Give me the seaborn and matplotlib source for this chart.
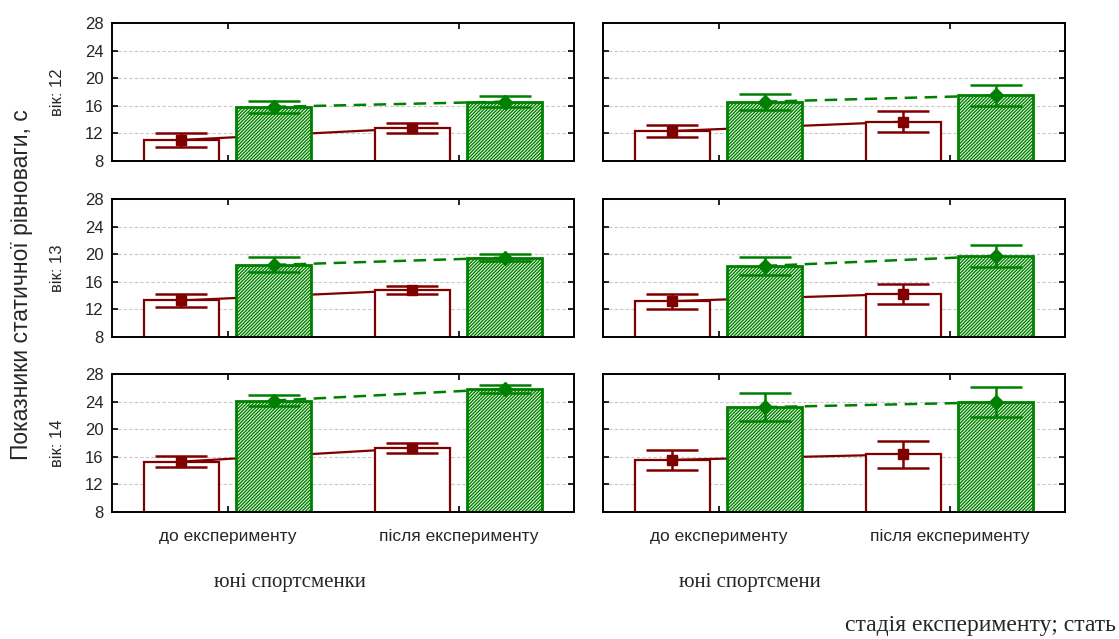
import numpy as np
import pandas as pd
import seaborn as sns
import matplotlib
matplotlib.use("Agg")
import matplotlib.pyplot as plt

# ---- data -------------------------------------------------------------
stages = ["до експерименту", "після експерименту"]
sexes = ["юні спортсменки", "юні спортсмени"]
ages = ["вік: 12", "вік: 13", "вік: 14"]
groups = ["К", "Е"]

# group means per age (12, 13, 14)
girls_ctrl_mean = [11.05, 13.3, 15.3]
girls_ctrl_mean_after = [12.75, 14.8, 17.25]
girls_exp_mean = [15.85, 18.45, 24.15]
girls_exp_mean_after = [16.6, 19.5, 25.85]
boys_ctrl_mean = [12.35, 13.2, 15.55]
boys_ctrl_mean_after = [13.7, 14.25, 16.35]
boys_exp_mean = [16.6, 18.3, 23.2]
boys_exp_mean_after = [17.5, 19.75, 23.9]

# half-widths of the error bars
girls_ctrl_err = [1.0, 0.97, 0.82]
girls_ctrl_err_after = [0.75, 0.6, 0.72]
girls_exp_err = [0.9, 1.1, 0.85]
girls_exp_err_after = [0.77, 0.55, 0.55]
boys_ctrl_err = [0.87, 1.1, 1.4]
boys_ctrl_err_after = [1.55, 1.4, 2.0]
boys_exp_err = [1.15, 1.35, 2.0]
boys_exp_err_after = [1.55, 1.6, 2.2]

y_ticks = [8, 12, 16, 20, 24, 28]

rows = []
src = {
    (0, 0): (girls_ctrl_mean, girls_ctrl_err),
    (0, 1): (girls_ctrl_mean_after, girls_ctrl_err_after),
    (1, 0): (girls_exp_mean, girls_exp_err),
    (1, 1): (girls_exp_mean_after, girls_exp_err_after),
}
src_b = {
    (0, 0): (boys_ctrl_mean, boys_ctrl_err),
    (0, 1): (boys_ctrl_mean_after, boys_ctrl_err_after),
    (1, 0): (boys_exp_mean, boys_exp_err),
    (1, 1): (boys_exp_mean_after, boys_exp_err_after),
}
for si, table in enumerate([src, src_b]):
    for (gi, sti), (m, e) in table.items():
        for ai in range(3):
            rows.append(dict(sex=sexes[si], age=ages[ai], group=groups[gi],
                             stage=stages[sti], mean=m[ai], err=e[ai]))
df = pd.DataFrame(rows)

# ---- style ------------------------------------------------------------
sns.set_theme(style="white")
plt.rcParams["font.family"] = ["Liberation Sans", "DejaVu Sans"]
plt.rcParams["hatch.linewidth"] = 1.0

RED = "#800000"
GREEN = "#008000"

W, H = 1119, 639
fig = plt.figure(figsize=(W / 100, H / 100), dpi=100)

col_x = [112, 603]
col_w = 462
row_y = [23, 199, 374]
row_h = 138

for ri, age in enumerate(ages):
    for ci, sex in enumerate(sexes):
        ax = fig.add_axes([col_x[ci] / W, 1 - (row_y[ri] + row_h) / H,
                           col_w / W, row_h / H])
        sub = df[(df.age == age) & (df.sex == sex)]
        sns.barplot(data=sub, x="stage", y="mean", hue="group",
                    order=stages, hue_order=groups, errorbar=None,
                    gap=0.19, width=0.8, legend=False, ax=ax,
                    palette=["white", "white"])
        patches = list(ax.patches)
        for gi, g in enumerate(groups):
            gsub = sub[sub.group == g].set_index("stage").loc[stages]
            bars = patches[gi * 2: gi * 2 + 2]
            xs = [b.get_x() + b.get_width() / 2 for b in bars]
            for b in bars:
                if g == "К":
                    b.set_facecolor("white")
                    b.set_edgecolor(RED)
                    b.set_linewidth(1.6)
                else:
                    b.set_facecolor("#f4fbf2")
                    b.set_edgecolor(GREEN)
                    b.set_hatch("//////////")
                    b.set_linewidth(2.0)
                b.set_zorder(2)
            color = RED if g == "К" else GREEN
            ls = "-" if g == "К" else (0, (5, 3))
            ax.plot(xs, gsub["mean"].values, color=color,
                    lw=1.6 if g == "К" else 1.8, linestyle=ls, zorder=1.5)
            ax.errorbar(xs, gsub["mean"].values, yerr=gsub["err"].values,
                        fmt="none", ecolor=color, elinewidth=1.8,
                        capsize=19, capthick=1.8, zorder=4)
            ax.plot(xs, gsub["mean"].values, linestyle="none",
                    marker="s" if g == "К" else "D",
                    markersize=7.5 if g == "К" else 7,
                    color=color, zorder=5)

        ax.set_xlim(-0.5, 1.5)
        ax.set_ylim(8, 28)
        ax.set_yticks(y_ticks)
        ax.grid(axis="y", color="#c8c8c8", linestyle=(0, (3, 2)), linewidth=0.8)
        ax.set_axisbelow(True)
        ax.set_xlabel("")
        ax.set_ylabel("")
        for sp in ax.spines.values():
            sp.set_visible(True)
            sp.set_color("black")
            sp.set_linewidth(1.4)
        ax.tick_params(axis="both", direction="in", length=4, width=1.2,
                       top=True, right=True, bottom=True, left=True,
                       color="black")
        ax.tick_params(axis="y", labelsize=12, pad=6)
        ax.tick_params(axis="x", labelsize=12.5, pad=12)
        if ci == 1:
            ax.set_yticklabels([])
        if ri < 2:
            ax.set_xticklabels([])
        if ci == 0:
            fig.text(57 / W, 1 - (row_y[ri] + row_h / 2) / H, age,
                     rotation=90, ha="center", va="center", fontsize=12)

fig.text(22 / W, 1 - 285 / H, "Показники статичної рівноваги, с",
         rotation=90, ha="center", va="center", fontsize=16.5)

serif = ["Liberation Serif", "DejaVu Serif"]
fig.text(290 / W, 1 - 583 / H, sexes[0], ha="center", va="center",
         fontsize=15, family=serif)
fig.text(750 / W, 1 - 583 / H, sexes[1], ha="center", va="center",
         fontsize=15, family=serif)
fig.text(1116 / W, 1 - 626 / H, "стадія експерименту; стать", ha="right",
         va="center", fontsize=17, family=serif)

fig.savefig("out.png", dpi=100)
